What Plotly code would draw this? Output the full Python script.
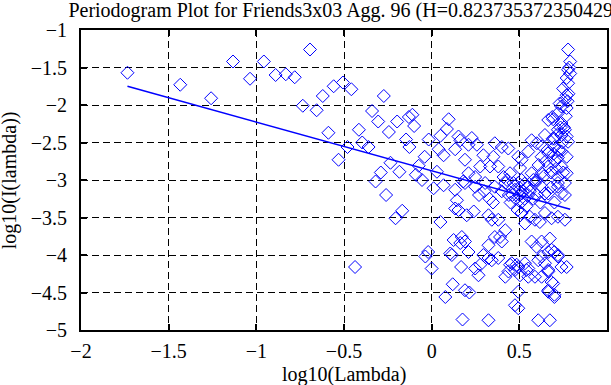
import plotly.graph_objects as go

# Periodogram points: log10(lambda) vs log10(I(lambda))
log_lambda = [
    -1.735, -1.434, -1.258, -1.133, -1.036, -0.957, -0.890, -0.832, -0.781, -0.735,
    -0.694, -0.656, -0.621, -0.589, -0.559, -0.531, -0.506, -0.480, -0.458, -0.437,
    -0.415, -0.396, -0.360, -0.340, -0.320, -0.305, -0.290, -0.273, -0.260, -0.244,
    -0.235, -0.206, -0.197, -0.184, -0.168, -0.146, -0.130, -0.127, -0.110, -0.100,
    -0.090, -0.074, -0.055, -0.040, -0.036, -0.020, -0.017, 0.000, 0.011, 0.030,
    0.040, 0.050, 0.050, 0.068, 0.068, 0.078, 0.087, 0.097, 0.106, 0.115,
    0.120, 0.125, 0.134, 0.134, 0.134, 0.144, 0.153, 0.153, 0.163, 0.163,
    0.168, 0.172, 0.176, 0.180, 0.190, 0.190, 0.190, 0.190, 0.200, 0.210,
    0.210, 0.210, 0.215, 0.229, 0.240, 0.248, 0.248, 0.248, 0.258, 0.267,
    0.277, 0.277, 0.295, 0.295, 0.305, 0.324, 0.324, 0.324, 0.324, 0.333,
    0.343, 0.343, 0.352, 0.360, 0.360, 0.360, 0.380, 0.380, 0.380, 0.390,
    0.400, 0.400, 0.410, 0.420, 0.420, 0.420, 0.437, 0.438, 0.447, 0.447,
    0.457, 0.466, 0.475, 0.475, 0.475, 0.485, 0.494, 0.494, 0.494, 0.494,
    0.494, 0.504, 0.504, 0.513, 0.513, 0.513, 0.513, 0.532, 0.532, 0.540,
    0.551, 0.551, 0.551, 0.551, 0.560, 0.570, 0.570, 0.570, 0.589, 0.589,
    0.589, 0.598, 0.600, 0.608, 0.608, 0.617, 0.627, 0.627, 0.627, 0.627,
    0.627, 0.627, 0.646, 0.646, 0.646, 0.646, 0.665, 0.665, 0.665, 0.665,
    0.665, 0.665, 0.665, 0.665, 0.665, 0.674, 0.674, 0.684, 0.684, 0.684,
    0.688, 0.693, 0.693, 0.700, 0.700, 0.700, 0.700, 0.720, 0.720, 0.720,
    0.720, 0.720, 0.720, 0.720, 0.720, 0.740, 0.740, 0.740, 0.740, 0.740,
    0.740, 0.740, 0.750, 0.760, 0.760, 0.760, 0.760, 0.760, 0.770, 0.770,
    0.770, 0.770, 0.770, 0.770, 0.770, 0.778, 0.778, 0.778, 0.778, 0.790,
    0.790,
    0.480, 0.500, 0.510, 0.520, 0.530, 0.540, 0.550, 0.500, 0.460, 0.490,
    0.530, 0.560, 0.580, 0.600, 0.620, 0.600, 0.640, 0.680, 0.700, 0.680,
    0.660, 0.700, 0.720, 0.750, 0.710, 0.730, 0.440, 0.400, 0.450, 0.430,
    0.300, 0.330, 0.270, 0.350, 0.780, 0.785, 0.775, 0.765, 0.755, 0.745,
    0.735, 0.725, 0.715, 0.705, 0.695, 0.650, 0.610, 0.580, 0.630, 0.690,
]
log_power = [
    -1.57, -1.73, -1.91, -1.42, -1.65, -1.42, -1.60, -1.59, -1.63, -2.01,
    -1.26, -2.07, -1.88, -2.37, -1.75, -2.73, -1.70, -2.56, -1.79, -4.16,
    -2.33, -2.50, -2.56, -2.08, -3.02, -2.22, -2.90, -1.88, -3.20, -2.36,
    -2.77, -3.51, -2.22, -2.89, -3.41, -2.46, -2.16, -2.56, -2.13, -2.28,
    -2.93, -2.81, -3.00, -2.69, -4.02, -3.96, -2.46, -4.18, -3.11, -2.89,
    -2.59, -2.41, -3.56, -2.67, -3.07, -4.56, -2.32, -2.19, -3.98, -4.00,
    -4.39, -3.80, -2.59, -3.13, -3.38, -3.27, -3.40, -2.42, -2.47, -3.84,
    -4.16, -3.76, -4.86, -3.02, -2.73, -3.82, -4.47, -3.04, -3.47, -2.53,
    -2.91, -3.96, -4.50, -2.44, -3.42, -2.96, -3.09, -4.18, -2.53, -4.27,
    -2.82, -4.13, -2.67, -4.00, -3.04, -3.47, -3.87, -4.04, -4.87, -2.82,
    -3.53, -4.07, -2.69, -2.51, -3.09, -3.76, -2.82, -3.53, -4.04, -3.76,
    -2.56, -3.82, -2.96, -3.04, -3.67, -4.29, -2.58, -4.22, -2.91, -4.13,
    -4.11, -3.04, -3.13, -4.20, -4.67, -4.13, -2.69, -3.04, -4.49, -4.71,
    -4.16, -2.84, -4.27, -2.73, -3.18, -3.00, -3.44, -3.58, -4.11, -4.20,
    -2.62, -3.09, -4.18, -4.29, -3.49, -2.47, -2.91, -3.82, -3.04, -3.53,
    -4.29, -3.89, -2.51, -4.07, -4.87, -3.56, -2.69, -2.91, -3.09, -3.82,
    -4.02, -4.29, -2.40, -3.18, -3.44, -4.11, -2.20, -2.64, -2.82, -3.18,
    -3.96, -4.20, -4.22, -4.47, -4.49, -3.78, -4.87, -3.51, -3.93, -4.36,
    -2.16, -2.19, -4.38, -2.56, -3.96, -4.53, -4.56, -2.11, -2.33, -2.96,
    -3.04, -3.09, -3.49, -4.00, -4.02, -2.02, -2.24, -2.40, -2.62, -2.82,
    -3.18, -4.16, -1.78, -1.93, -2.33, -3.04, -3.20, -3.53, -1.64, -1.87,
    -2.04, -2.42, -2.69, -2.91, -4.16, -1.26, -1.53, -1.71, -2.49, -1.42,
    -1.58,
    -3.25, -3.20, -3.30, -3.15, -3.25, -3.35, -3.20, -3.10, -3.20, -3.40,
    -3.05, -3.15, -3.25, -3.20, -3.30, -3.00, -2.95, -2.90, -3.30, -3.10,
    -2.60, -2.45, -2.70, -2.90, -2.85, -1.98, -3.20, -3.15, -3.30, -3.00,
    -3.15, -3.25, -3.20, -3.30, -1.85, -1.50, -1.95, -2.15, -2.30, -2.50,
    -2.30, -2.60, -2.40, -2.75, -2.65, -2.75, -2.80, -3.00, -2.55, -2.45,
]

# Least-squares fit line end points
fit_x = [-1.735, 0.79]
fit_y = [-1.75, -3.39]

title_text = "Periodogram Plot for Friends3x03 Agg. 96 (H=0.823735372350429)"
x_label = "log10(Lambda)"
y_label = "log10(I(lambda))"
x_ticks = [-2, -1.5, -1, -0.5, 0, 0.5, 1]
x_tick_text = ["\u22122", "\u22121.5", "\u22121", "\u22120.5", "0", "0.5", "1"]
y_ticks = [-5, -4.5, -4, -3.5, -3, -2.5, -2, -1.5, -1]
y_tick_text = ["\u22125", "\u22124.5", "\u22124", "\u22123.5", "\u22123",
               "\u22122.5", "\u22122", "\u22121.5", "\u22121"]

font_family = "Liberation Serif"

fig = go.Figure()
fig.add_trace(go.Scatter(
    x=log_lambda, y=log_power, mode="markers",
    marker=dict(symbol="diamond-open", size=10, color="#0000ff",
                line=dict(width=1, color="#0000ff")),
    showlegend=False, hoverinfo="skip",
))
fig.add_trace(go.Scatter(
    x=fit_x, y=fit_y, mode="lines",
    line=dict(color="#0000ff", width=1.5),
    showlegend=False, hoverinfo="skip",
))

axis_common = dict(
    showgrid=True, gridcolor="black", gridwidth=1, griddash="7px,4px",
    zeroline=False, showline=True, linecolor="black", linewidth=2,
    mirror="allticks", ticks="inside", ticklen=6, tickcolor="black", tickwidth=1.5,
    tickfont=dict(family=font_family, size=20, color="black"),
)

fig.update_layout(
    width=611, height=385,
    margin=dict(l=81, r=2, t=30, b=55),
    paper_bgcolor="white", plot_bgcolor="white",
    font=dict(family=font_family, size=20, color="black"),
    title=dict(text=title_text, x=0.5, xref="paper", xanchor="center",
               y=1 - 10 / 385, yref="container", yanchor="middle",
               font=dict(family=font_family, size=20, color="black")),
    xaxis=dict(range=[-2, 1], tickvals=x_ticks, ticktext=x_tick_text,
               ticklabelstandoff=2, **axis_common),
    yaxis=dict(range=[-5, -1], tickvals=y_ticks, ticktext=y_tick_text,
               ticklabelstandoff=8, **axis_common),
    annotations=[
        dict(text=x_label, x=0.5, y=-44 / 300, xref="paper", yref="paper",
             xanchor="center", yanchor="middle", showarrow=False,
             font=dict(family=font_family, size=20, color="black")),
        dict(text=y_label, x=-72 / 528, y=0.5, xref="paper", yref="paper",
             xanchor="center", yanchor="middle", showarrow=False, textangle=-90,
             font=dict(family=font_family, size=20, color="black")),
    ],
)

fig.write_html(
    "out.html",
    config={"displayModeBar": False},
    post_script="document.body.style.margin='0';document.body.style.overflow='hidden';",
)
